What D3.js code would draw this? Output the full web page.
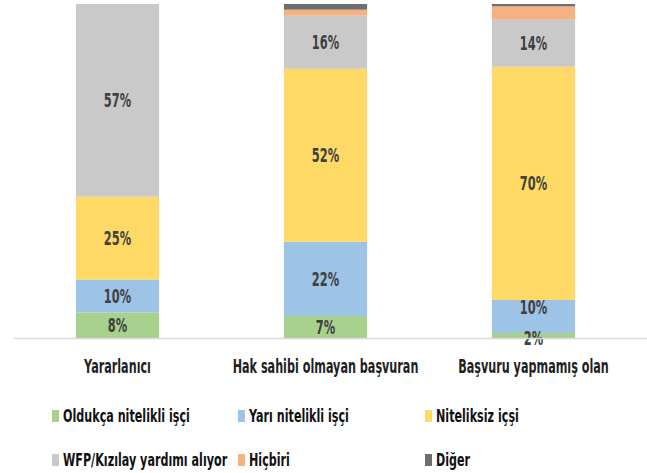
<!DOCTYPE html>
<html>
<head>
<meta charset="utf-8">
<script src="https://cdn.jsdelivr.net/npm/d3@7"></script>
<style>
  body { margin: 0; background: #fff; }
  svg text { font-family: "DejaVu Sans", sans-serif; font-weight: bold; }
</style>
</head>
<body>
<div id="chart"></div>
<script>
// categories and series (percent shares)
var categories = ["Yararlanıcı", "Hak sahibi olmayan başvuran", "Başvuru yapmamış olan"];
var seriesNames = ["Oldukça nitelikli işçi", "Yarı nitelikli işçi", "Niteliksiz içşi",
                   "WFP/Kızılay yardımı alıyor", "Hiçbiri", "Diğer"];
var oldukcaNitelikli = [7.6, 6.6, 1.5];
var yariNitelikli    = [9.9, 22.2, 9.9];
var niteliksiz       = [24.8, 51.8, 69.8];
var wfpKizilay       = [57.7, 15.9, 14.1];
var hicbiri          = [0, 1.8, 4.0];
var diger            = [0, 1.7, 0.7];
var dataLabels = [
  ["8%", "10%", "25%", "57%", null, null],
  ["7%", "22%", "52%", "16%", null, null],
  ["2%", "10%", "70%", "14%", null, null]
];
var colors = ["#A9D18E", "#9DC3E6", "#FFD966", "#C9C9C9", "#F4B183", "#6E6E6E"];

var allSeries = [oldukcaNitelikli, yariNitelikli, niteliksiz, wfpKizilay, hicbiri, diger];
var rows = categories.map(function (c, i) {
  var r = { cat: c };
  seriesNames.forEach(function (s, j) { r[s] = allSeries[j][i]; });
  return r;
});

var width = 647, height = 473;
var svg = d3.select("#chart").append("svg")
  .attr("width", width)
  .attr("height", height);

// the original font is a tall narrow one: squeeze text sideways around its anchor
function narrow(sel, k) {
  sel.each(function () {
    var t = d3.select(this);
    var ax = parseFloat(t.attr("x")) || 0;
    t.attr("transform", "translate(" + ax + ",0) scale(" + k + ",1) translate(" + (-ax) + ",0)");
  });
}

var x = d3.scaleBand()
  .domain(categories)
  .range([13.5, 637.5])
  .paddingInner(0.6)
  .paddingOuter(0.3);
var y = d3.scaleLinear()
  .domain([0, 100])
  .range([338, 4]);

var stack = d3.stack().keys(seriesNames);
var layers = stack(rows);

var g = svg.append("g");
layers.forEach(function (layer, j) {
  g.selectAll(".bar" + j)
    .data(layer)
    .enter().append("rect")
    .attr("x", function (d) { return x(d.data.cat); })
    .attr("width", x.bandwidth())
    .attr("y", function (d) { return y(d[1]); })
    .attr("height", function (d) { return y(d[0]) - y(d[1]); })
    .style("fill", colors[j]);
});

// baseline + category labels
var xAxis = d3.axisBottom(x).tickSize(0).tickPadding(22);
var gX = svg.append("g")
  .attr("transform", "translate(0," + y(0) + ")")
  .call(xAxis);
gX.select(".domain").remove();
svg.append("line")
  .attr("x1", 14).attr("x2", width)
  .attr("y1", y(0) + 0.5).attr("y2", y(0) + 0.5)
  .style("stroke", "#D9D9D9")
  .style("stroke-width", 1.5);
gX.selectAll("text")
  .style("font-size", "19px")
  .style("fill", "#1F1F1F")
  .call(narrow, 0.59);

// data labels (a label on a very thin bottom segment sits on the baseline,
// and the one above it is pushed up a bit)
function labelY(d, j) {
  var i = categories.indexOf(d.data.cat);
  var h = y(d[0]) - y(d[1]);
  if (j === 0 && h < 12) return y(d[0]);
  var mid = (y(d[0]) + y(d[1])) / 2;
  if (j === 1) {
    var below = layers[0][i];
    if (y(below[0]) - y(below[1]) < 12) return mid - 9;
  }
  return mid;
}
layers.forEach(function (layer, j) {
  g.selectAll(".lab" + j)
    .data(layer.filter(function (d, i) { return dataLabels[i][j]; }))
    .enter().append("text")
    .attr("x", function (d) { return x(d.data.cat) + x.bandwidth() / 2; })
    .attr("y", function (d) { return labelY(d, j); })
    .attr("dy", "0.36em")
    .style("text-anchor", "middle")
    .style("font-size", "19px")
    .style("fill", "#404040")
    .text(function (d) { return dataLabels[categories.indexOf(d.data.cat)][j]; })
    .call(narrow, 0.6);
});

// legend
var legendCols = [52, 238, 425];
var legendRows = [416, 460];
var legend = svg.append("g").attr("class", "legend");
seriesNames.forEach(function (s, j) {
  var lx = legendCols[j % 3], ly = legendRows[Math.floor(j / 3)];
  legend.append("rect")
    .attr("x", lx).attr("y", ly - 6)
    .attr("width", 7).attr("height", 12)
    .style("fill", colors[j]);
  legend.append("text")
    .attr("x", lx + 11).attr("y", ly)
    .attr("dy", "0.36em")
    .style("font-size", "18px")
    .style("fill", "#111")
    .text(s)
    .call(narrow, 0.62);
});
</script>
</body>
</html>
